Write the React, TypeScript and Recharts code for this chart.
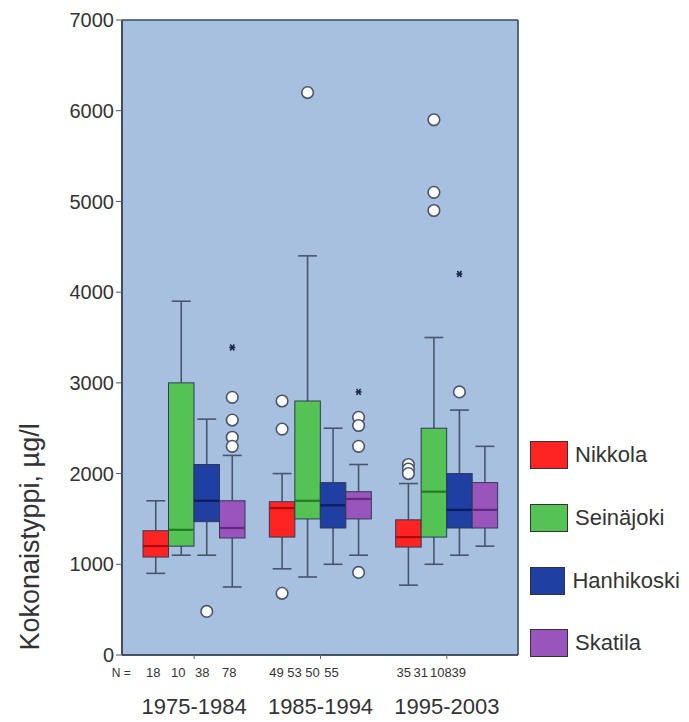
import React from 'react';
import {
  ComposedChart,
  Bar,
  XAxis,
  YAxis,
  CartesianGrid,
  Legend,
  Label,
} from 'recharts';

const FONT = '"Liberation Sans", Arial, sans-serif';
const TEXT = '#333333';
const FRAME = '#3b4862';

const periods = ['1975-1984', '1985-1994', '1995-2003'];
const yTicks = [0, 1000, 2000, 3000, 4000, 5000, 6000, 7000];

// [min, q1, median, q3, max] per period
const nikkolaStats = [
  [900, 1080, 1200, 1370, 1700],
  [950, 1300, 1620, 1690, 2000],
  [770, 1190, 1300, 1490, 1890],
];
const seinajokiStats = [
  [1100, 1200, 1380, 3000, 3900],
  [860, 1500, 1700, 2800, 4400],
  [1000, 1300, 1800, 2500, 3500],
];
const hanhikoskiStats = [
  [1100, 1470, 1700, 2100, 2600],
  [1000, 1400, 1650, 1900, 2500],
  [1100, 1400, 1600, 2000, 2700],
];
const skatilaStats = [
  [750, 1290, 1400, 1700, 2200],
  [1100, 1500, 1720, 1800, 2100],
  [1200, 1400, 1600, 1900, 2300],
];

// outliers (circles) and extremes (stars)
const nikkolaOutliers = [[], [2800, 2490, 680], [2100, 2050, 2000]];
const seinajokiOutliers = [[], [6200], [5900, 5100, 4900]];
const hanhikoskiOutliers = [[480], [], [2900]];
const skatilaOutliers = [[2840, 2590, 2400, 2300], [2620, 2530, 2300, 910], []];

const nikkolaExtremes = [[], [], []];
const seinajokiExtremes = [[], [], []];
const hanhikoskiExtremes = [[], [], [4200]];
const skatilaExtremes = [[3390], [2900], []];

// N per period
const nikkolaCounts = [18, 49, 35];
const seinajokiCounts = [10, 53, 31];
const hanhikoskiCounts = [38, 50, 108];
const skatilaCounts = [78, 55, 39];

const series = [
  { key: 'nikkola', name: 'Nikkola', stats: nikkolaStats, outliers: nikkolaOutliers, extremes: nikkolaExtremes, fill: '#ff2424', median: '#a80c0c' },
  { key: 'seinajoki', name: 'Seinäjoki', stats: seinajokiStats, outliers: seinajokiOutliers, extremes: seinajokiExtremes, fill: '#55c255', median: '#237a23' },
  { key: 'hanhikoski', name: 'Hanhikoski', stats: hanhikoskiStats, outliers: hanhikoskiOutliers, extremes: hanhikoskiExtremes, fill: '#1f3fa3', median: '#0c1c5c' },
  { key: 'skatila', name: 'Skatila', stats: skatilaStats, outliers: skatilaOutliers, extremes: skatilaExtremes, fill: '#9a55bd', median: '#5e2a7a' },
];

const countsByPeriod = periods.map((_, i) => [
  nikkolaCounts[i],
  seinajokiCounts[i],
  hanhikoskiCounts[i],
  skatilaCounts[i],
]);

const data = periods.map((period, i) => {
  const row: any = { period };
  series.forEach((s) => {
    row[s.key] = [s.stats[i][0], s.stats[i][4]];
  });
  return row;
});

// label offsets of the N row, relative to the period tick
const nOffsets = [
  [-41, -16, 8, 35],
  [-44, -26, -8, 11],
  [-43, -26, -6, 12],
];

const makeBoxShape = (s: any) => (props: any) => {
  const { x, width, index } = props;
  let { y, height } = props;
  if (height < 0) {
    y += height;
    height = -height;
  }
  const [lo, q1, med, q3, hi] = s.stats[index];
  const k = height / (hi - lo);
  const py = (v: number) => y + (hi - v) * k;
  const cx = x + width / 2;
  const cap = width * 0.37;
  const wStroke = '#46546e';
  return (
    <g>
      <line x1={cx} x2={cx} y1={py(hi)} y2={py(q3)} stroke={wStroke} strokeWidth={1.6} />
      <line x1={cx} x2={cx} y1={py(q1)} y2={py(lo)} stroke={wStroke} strokeWidth={1.6} />
      <line x1={cx - cap} x2={cx + cap} y1={py(hi)} y2={py(hi)} stroke={wStroke} strokeWidth={1.6} />
      <line x1={cx - cap} x2={cx + cap} y1={py(lo)} y2={py(lo)} stroke={wStroke} strokeWidth={1.6} />
      <rect
        x={x}
        y={py(q3)}
        width={width}
        height={py(q1) - py(q3)}
        fill={s.fill}
        stroke="#2e3a52"
        strokeWidth={1}
      />
      <line x1={x} x2={x + width} y1={py(med)} y2={py(med)} stroke={s.median} strokeWidth={2.2} />
      {s.outliers[index].map((v: number, j: number) => (
        <circle key={`o${j}`} cx={cx} cy={py(v)} r={5.8} fill="#ffffff" stroke="#4a5468" strokeWidth={1.6} />
      ))}
      {s.extremes[index].map((v: number, j: number) => (
        <g key={`e${j}`} stroke="#1c2540" strokeWidth={1.6}>
          <line x1={cx - 3} x2={cx + 3} y1={py(v)} y2={py(v)} />
          <line x1={cx - 2} x2={cx + 2} y1={py(v) - 3} y2={py(v) + 3} />
          <line x1={cx + 2} x2={cx - 2} y1={py(v) - 3} y2={py(v) + 3} />
        </g>
      ))}
    </g>
  );
};

const PeriodTick = (props: any) => {
  const { x, y, payload, index } = props;
  return (
    <g fontFamily={FONT} fill={TEXT}>
      {index === 0 && (
        <text x={x - 73} y={y + 18} textAnchor="middle" fontSize={12}>
          N =
        </text>
      )}
      {countsByPeriod[index].map((n, j) => (
        <text key={j} x={x + nOffsets[index][j]} y={y + 18} textAnchor="middle" fontSize={13}>
          {n}
        </text>
      ))}
      <text x={x} y={y + 55} textAnchor="middle" fontSize={22}>
        {payload.value}
      </text>
    </g>
  );
};

const renderYLabel = (props: any) => {
  const vb = props.viewBox;
  const lx = vb.x + 22;
  const ly = vb.y + vb.height * 0.814;
  return (
    <text
      x={lx}
      y={ly}
      transform={`rotate(-90, ${lx}, ${ly})`}
      textAnchor="middle"
      dominantBaseline="central"
      fontFamily={FONT}
      fontSize={27}
      fill={TEXT}
    >
      Kokonaistyppi, µg/l
    </text>
  );
};

const renderLegend = () => (
  <div style={{ fontFamily: FONT, fontSize: 22, color: TEXT }}>
    {series.map((s) => (
      <div key={s.key} style={{ display: 'flex', alignItems: 'center', height: 62.7 }}>
        <span
          style={{
            display: 'inline-block',
            width: 38,
            height: 28,
            background: s.fill,
            border: '1.5px solid #333',
            boxSizing: 'border-box',
            marginRight: 7,
          }}
        />
        <span>{s.name}</span>
      </div>
    ))}
  </div>
);

export default function App() {
  return (
    <div style={{ paddingTop: 8, paddingLeft: 8, width: 673, height: 714 }}>
      <style>{'body { margin: 0; }'}</style>
      <ComposedChart
        width={673}
        height={714}
        data={data}
        margin={{ top: 12, right: 163, bottom: 0, left: 0 }}
        barGap={0}
      >
        <CartesianGrid
          fill="#a8c0e0"
          stroke={FRAME}
          strokeWidth={1.6}
          horizontalCoordinatesGenerator={({ offset }: any) => [offset.top, offset.top + offset.height]}
          verticalCoordinatesGenerator={({ offset }: any) => [offset.left, offset.left + offset.width]}
        />
        <XAxis
          dataKey="period"
          type="category"
          height={67}
          padding={{ left: 9, right: 8 }}
          tickSize={4}
          tickMargin={0}
          tick={<PeriodTick />}
          axisLine={{ stroke: FRAME, strokeWidth: 1.6 }}
          tickLine={{ stroke: '#666' }}
          interval={0}
        />
        <YAxis
          width={114}
          domain={[0, 7000]}
          ticks={yTicks}
          allowDataOverflow
          tickSize={6}
          tickMargin={2}
          tick={{ fontFamily: FONT, fontSize: 20, fill: TEXT }}
          axisLine={{ stroke: FRAME, strokeWidth: 1.6 }}
          tickLine={{ stroke: '#555' }}
        >
          <Label content={renderYLabel} />
        </YAxis>
        <Legend
          layout="vertical"
          align="center"
          verticalAlign="middle"
          content={renderLegend}
          wrapperStyle={{ left: 522, top: 416, width: 150 }}
        />
        {series.map((s) => (
          <Bar
            key={s.key}
            dataKey={s.key}
            name={s.name}
            fill={s.fill}
            barSize={25.5}
            shape={makeBoxShape(s)}
            isAnimationActive={false}
          />
        ))}
      </ComposedChart>
    </div>
  );
}
